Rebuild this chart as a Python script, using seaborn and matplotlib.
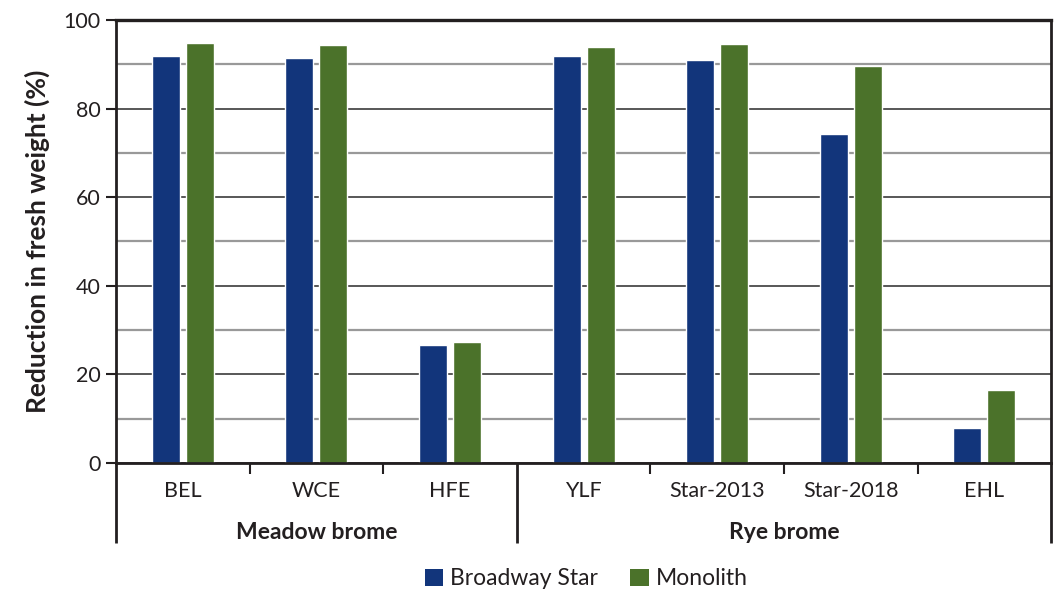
import numpy as np
import pandas as pd
import seaborn as sns
import matplotlib.pyplot as plt
from matplotlib.patches import Patch
from matplotlib.transforms import blended_transform_factory

# values
cultivars = ["BEL", "WCE", "HFE", "YLF", "Star-2013", "Star-2018", "EHL"]
species = ["Meadow brome", "Meadow brome", "Meadow brome",
           "Rye brome", "Rye brome", "Rye brome", "Rye brome"]
broadway_star = [91.9, 91.4, 26.6, 91.9, 91.0, 74.3, 7.9]
monolith = [94.9, 94.4, 27.3, 93.9, 94.6, 89.6, 16.5]
treatments = ["Broadway Star", "Monolith"]
colors = ["#12357b", "#4b722a"]

df = pd.DataFrame({
    "cultivar": cultivars * 2,
    "treatment": [treatments[0]] * len(cultivars) + [treatments[1]] * len(cultivars),
    "reduction": broadway_star + monolith,
})

sns.set_theme(style="white")
plt.rcParams['font.family'] = ['Lato', 'DejaVu Sans']
txt = "#231f20"

fig = plt.figure(figsize=(10.64, 5.91), dpi=100)
ax = fig.add_axes([0.109, 0.2166, 0.879, 0.7496])

sns.barplot(data=df, x="cultivar", y="reduction", hue="treatment",
            order=cultivars, hue_order=treatments, palette=colors,
            width=0.51, gap=0.18, saturation=1, ax=ax, legend=False)

# y axis with major (dark) and minor (gray) grid lines
ax.set_ylim(0, 100)
ax.set_xlim(-0.5, len(cultivars) - 0.5)
ax.set_yticks(np.arange(0, 101, 20))
ax.set_yticks(np.arange(10, 100, 20), minor=True)
ax.set_axisbelow(True)
ax.grid(axis="y", which="major", color="#2a2a2a", linewidth=1.1)
ax.grid(axis="y", which="minor", color="#999999", linewidth=1.6)
ax.tick_params(axis="y", which="major", length=7, width=1.5, color=txt,
               labelsize=15.5, labelcolor=txt, left=True, pad=4)
ax.tick_params(axis="y", which="minor", length=0)
for s in ax.spines.values():
    s.set_color(txt)
    s.set_linewidth(2)
ax.spines["top"].set_linewidth(2.4)

ax.set_ylabel("Reduction in fresh weight (%)", fontsize=19,
              fontweight="bold", color=txt, labelpad=10)
ax.set_xlabel("")

# x axis: cultivar labels, boundary ticks and species separators
ax.tick_params(axis="x", which="major", length=0, labelsize=15.5,
               labelcolor=txt, pad=13)
ax.set_xticks(range(len(cultivars)))
ax.set_xticklabels(cultivars)
ax.set_xticks([0.5, 1.5, 3.5, 4.5, 5.5], minor=True)
ax.tick_params(axis="x", which="minor", length=8, width=1.5, color=txt,
               bottom=True, direction="out")

trans = blended_transform_factory(ax.transData, ax.transAxes)
sep_len = 80 / (0.7496 * 591)
groups = ["Meadow brome", "Rye brome"]
edges = [-0.5]
for g in groups:
    idx = [i for i, s in enumerate(species) if s == g]
    edges.append(idx[-1] + 0.5)
for e in edges:
    ax.plot([e, e], [0, -sep_len], transform=trans, color=txt,
            linewidth=2, clip_on=False, solid_capstyle="butt")
for g, a, b in zip(groups, edges[:-1], edges[1:]):
    ax.text((a + b) / 2, -70 / (0.7496 * 591), g, transform=trans,
            ha="center", va="center", fontsize=16.5, fontweight="bold",
            color=txt)

# legend at the bottom
handles = [Patch(facecolor=c, edgecolor="none") for c in colors]
fig.legend(handles, treatments, loc="lower center", ncol=2, frameon=False,
           bbox_to_anchor=(0.551, -0.032), fontsize=16.5, handlelength=0.8,
           handleheight=0.8, handletextpad=0.3, columnspacing=1.4,
           labelcolor=txt)

fig.savefig("out.png", dpi=100)
